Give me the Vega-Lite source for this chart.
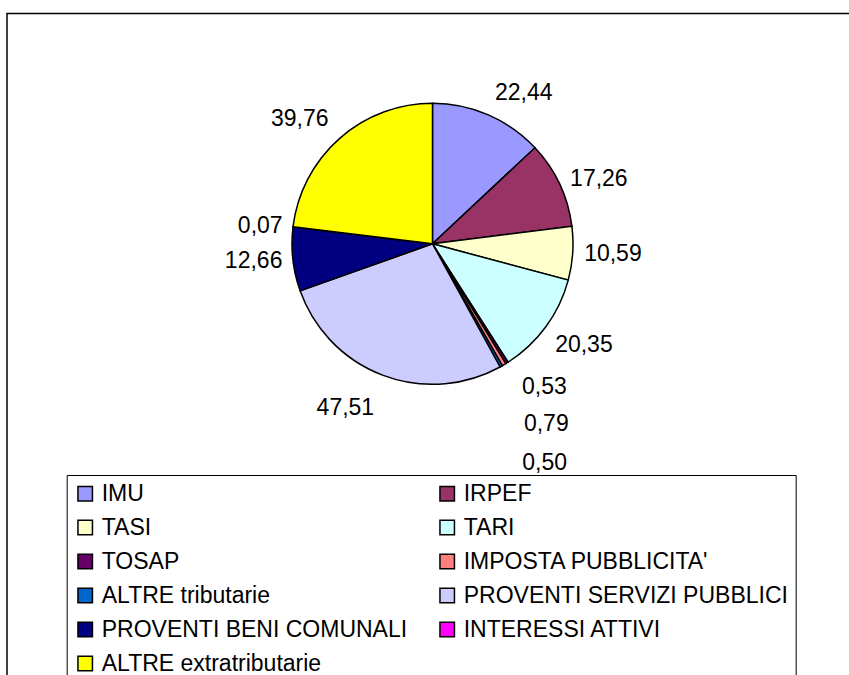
{
  "$schema": "https://vega.github.io/schema/vega-lite/v6.json",
  "autosize": {"type": "none"},
  "width": 851,
  "height": 700,
  "padding": {"left": 7, "top": 13.5, "right": -9, "bottom": -38.5},
  "background": "white",
  "view": {"stroke": "black", "strokeWidth": 1.5},
  "config": {
    "view": {"stroke": "black", "strokeWidth": 1.5},
    "font": "Liberation Sans"
  },
  "data": {
    "values": [
      {"k": "IMU", "v": 22.44, "lab": "22,44", "i": 1},
      {"k": "IRPEF", "v": 17.26, "lab": "17,26", "i": 2},
      {"k": "TASI", "v": 10.59, "lab": "10,59", "i": 3},
      {"k": "TARI", "v": 20.35, "lab": "20,35", "i": 4},
      {"k": "TOSAP", "v": 0.53, "lab": "0,53", "i": 5},
      {"k": "IMPOSTA PUBBLICITA'", "v": 0.79, "lab": "0,79", "i": 6},
      {"k": "ALTRE tributarie", "v": 0.5, "lab": "0,50", "i": 7},
      {"k": "PROVENTI SERVIZI PUBBLICI", "v": 47.51, "lab": "47,51", "i": 8},
      {"k": "PROVENTI BENI COMUNALI", "v": 12.66, "lab": "12,66", "i": 9},
      {"k": "INTERESSI ATTIVI", "v": 0.07, "lab": "0,07", "i": 10},
      {"k": "ALTRE extratributarie", "v": 39.76, "lab": "39,76", "i": 11}
    ]
  },
  "encoding": {
    "theta": {"field": "v", "type": "quantitative", "stack": true},
    "order": {"field": "i", "type": "quantitative"}
  },
  "layer": [
    {
      "mark": {"type": "arc", "outerRadius": 140.5, "stroke": "black", "strokeWidth": 1.5, "y": 230.3},
      "encoding": {
        "color": {
          "field": "k",
          "type": "nominal",
          "scale": {
            "domain": ["IMU", "IRPEF", "TASI", "TARI", "TOSAP", "IMPOSTA PUBBLICITA'", "ALTRE tributarie", "PROVENTI SERVIZI PUBBLICI", "PROVENTI BENI COMUNALI", "INTERESSI ATTIVI", "ALTRE extratributarie"],
            "range": ["#9999FF", "#993366", "#FFFFCC", "#CCFFFF", "#660066", "#FF8080", "#0066CC", "#CCCCFF", "#000080", "#FF00FF", "#FFFF00"]
          },
          "legend": {
            "orient": "none",
            "direction": "horizontal",
            "legendX": 59.7,
            "legendY": 461.5,
            "columns": 2,
            "title": null,
            "strokeColor": "black",
            "padding": 7,
            "symbolType": "square",
            "symbolSize": 210,
            "symbolStrokeColor": "black",
            "symbolStrokeWidth": 1.5,
            "symbolOpacity": 1,
            "labelFont": "Liberation Sans",
            "labelFontSize": 23,
            "labelColor": "black",
            "labelOffset": 5,
            "rowPadding": 10,
            "columnPadding": 28,
            "labelLimit": 0
          }
        }
      }
    },
    {
      "mark": {"type": "text", "radius": 157, "align": "left", "baseline": "alphabetic", "fontSize": 23, "font": "Liberation Sans", "color": "black", "y": 230.3},
      "encoding": {"detail": {"field": "k"}, "text": {"condition": {"test": "datum.i == 1", "field": "lab", "type": "nominal"}, "value": ""}}
    },
    {
      "mark": {"type": "text", "radius": 157, "align": "right", "baseline": "alphabetic", "fontSize": 23, "font": "Liberation Sans", "color": "black", "y": 230.3},
      "encoding": {"detail": {"field": "k"}, "text": {"condition": {"test": "datum.i == 11", "field": "lab", "type": "nominal"}, "value": ""}}
    },
    {
      "mark": {"type": "text", "radius": 152, "align": "left", "baseline": "middle", "fontSize": 23, "font": "Liberation Sans", "color": "black", "y": 230.3},
      "encoding": {"detail": {"field": "k"}, "text": {"condition": {"test": "datum.i == 2 || datum.i == 3", "field": "lab", "type": "nominal"}, "value": ""}}
    },
    {
      "mark": {"type": "text", "radius": 152, "align": "left", "baseline": "top", "fontSize": 23, "font": "Liberation Sans", "color": "black", "y": 230.3},
      "encoding": {"detail": {"field": "k"}, "text": {"condition": {"test": "datum.i == 4", "field": "lab", "type": "nominal"}, "value": ""}}
    },
    {
      "mark": {"type": "text", "radius": 164, "align": "right", "baseline": "top", "fontSize": 23, "font": "Liberation Sans", "color": "black", "y": 230.3},
      "encoding": {"detail": {"field": "k"}, "text": {"condition": {"test": "datum.i == 8", "field": "lab", "type": "nominal"}, "value": ""}}
    },
    {
      "mark": {"type": "text", "radius": 151, "align": "right", "baseline": "middle", "fontSize": 23, "font": "Liberation Sans", "color": "black", "y": 230.3},
      "encoding": {"detail": {"field": "k"}, "text": {"condition": {"test": "datum.i == 9 || datum.i == 10", "field": "lab", "type": "nominal"}, "value": ""}}
    },
    {
      "mark": {"type": "text", "radius": 169, "align": "left", "baseline": "middle", "fontSize": 23, "font": "Liberation Sans", "color": "black", "y": 230.3},
      "encoding": {"detail": {"field": "k"}, "text": {"condition": {"test": "datum.i == 5", "field": "lab", "type": "nominal"}, "value": ""}}
    },
    {
      "mark": {"type": "text", "radius": 209, "dx": -15, "align": "left", "baseline": "middle", "fontSize": 23, "font": "Liberation Sans", "color": "black", "y": 230.3},
      "encoding": {"detail": {"field": "k"}, "text": {"condition": {"test": "datum.i == 6", "field": "lab", "type": "nominal"}, "value": ""}}
    },
    {
      "mark": {"type": "text", "radius": 251, "dx": -33, "align": "left", "baseline": "middle", "fontSize": 23, "font": "Liberation Sans", "color": "black", "y": 230.3},
      "encoding": {"detail": {"field": "k"}, "text": {"condition": {"test": "datum.i == 7", "field": "lab", "type": "nominal"}, "value": ""}}
    }
  ]
}
